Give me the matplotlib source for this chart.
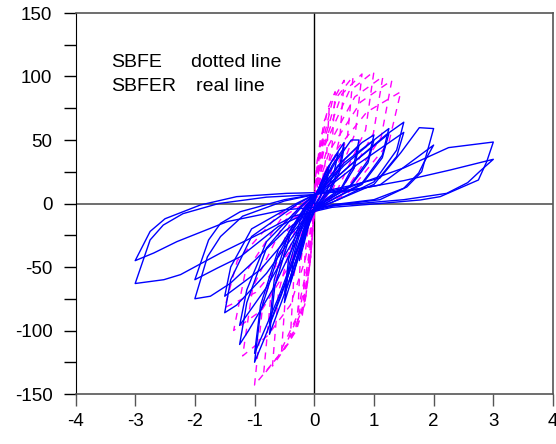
import matplotlib
matplotlib.use("Agg")
import matplotlib.pyplot as plt
from matplotlib.ticker import MultipleLocator

plt.rcParams['font.family'] = ['Liberation Sans', 'DejaVu Sans']
plt.rcParams['axes.unicode_minus'] = False

# SBFER (real line) - cycles, displacement / force
b1_x = [0, 0.08, 0.18, 0.25, 0.2, 0.1, 0, -0.08, -0.18, -0.25, -0.2, -0.1, 0]
b1_y = [0, 12, 24, 30, 18, 6, -2, -15, -33, -45, -30, -10, 3]
b2_x = [0, 0.1, 0.25, 0.19, 0.08, 0, -0.1, -0.25, -0.19, -0.08, 0]
b2_y = [3, 14, 26, 14, 3, -3, -17, -40, -22, -6, 4]
b3_x = [0, 0.1, 0.25, 0.4, 0.33, 0.2, 0.05, -0.1, -0.25, -0.4, -0.33, -0.18, -0.03, 0]
b3_y = [4, 15, 30, 40, 24, 9, -1, -18, -40, -62, -38, -14, 2, 5]
b4_x = [0, 0.1, 0.3, 0.5, 0.42, 0.25, 0.05, -0.1, -0.3, -0.5, -0.42, -0.22, -0.03, 0]
b4_y = [5, 14, 34, 48, 28, 10, -1, -16, -48, -78, -48, -16, 4, 6]
b5_x = [0, 0.1, 0.3, 0.5, 0.43, 0.26, 0.05, -0.1, -0.3, -0.5, -0.43, -0.24, -0.03, 0]
b5_y = [6, 12, 30, 44, 26, 9, -2, -15, -44, -72, -44, -14, 5, 6]
b6_x = [0, 0.1, 0.35, 0.62, 0.75, 0.66, 0.45, 0.15, -0.05, -0.15, -0.45, -0.75, -0.66, -0.4, -0.1, 0]
b6_y = [6, 12, 32, 50, 50, 30, 12, 2, -6, -22, -65, -103, -65, -24, -2, 6]
b7_x = [0, 0.1, 0.4, 0.75, 0.67, 0.45, 0.15, -0.05, -0.18, -0.45, -0.75, -0.67, -0.42, -0.1, 0]
b7_y = [6, 11, 30, 46, 28, 11, 1, -6, -24, -58, -95, -60, -22, -1, 6]
b8_x = [0, 0.1, 0.45, 0.8, 1.0, 0.9, 0.6, 0.2, -0.05, -0.2, -0.55, -0.85, -1.0, -0.9, -0.6, -0.15, 0]
b8_y = [6, 11, 32, 48, 54, 34, 14, 2, -6, -25, -72, -108, -125, -85, -40, -3, 6]
b9_x = [0, 0.1, 0.5, 1.0, 0.9, 0.6, 0.2, -0.05, -0.2, -0.6, -1.0, -0.9, -0.6, -0.15, 0]
b9_y = [6, 10, 32, 50, 32, 13, 2, -6, -24, -74, -118, -80, -36, -2, 6]
b10_x = [0, 0.1, 0.5, 1.0, 1.25, 1.14, 0.8, 0.3, -0.05, -0.25, -0.7, -1.1, -1.25, -1.13, -0.8, -0.2, 0]
b10_y = [6, 10, 30, 50, 59, 38, 16, 3, -6, -24, -68, -100, -111, -78, -35, -2, 7]
b11_x = [0, 0.1, 0.6, 1.25, 1.14, 0.8, 0.3, -0.05, -0.3, -0.8, -1.25, -1.13, -0.8, -0.2, 0]
b11_y = [7, 9, 30, 55, 36, 15, 3, -6, -25, -66, -96, -68, -30, -1, 7]
b12_x = [0, 0.1, 0.6, 1.2, 1.5, 1.38, 1.0, 0.4, -0.05, -0.3, -0.8, -1.3, -1.5, -1.4, -1.05, -0.3, 0]
b12_y = [7, 9, 30, 54, 64, 42, 17, 3, -6, -22, -55, -80, -86, -60, -26, -1, 7]
b13_x = [0, 0.1, 0.7, 1.5, 1.38, 1.0, 0.4, -0.05, -0.35, -0.9, -1.5, -1.4, -1.05, -0.3, 0]
b13_y = [7, 8, 30, 56, 37, 15, 3, -6, -22, -52, -73, -50, -20, 0, 7]
b14_x = [0, 0.1, 0.6, 1.1, 1.45, 1.76, 2.0, 1.8, 1.55, 1.1, 0.4, -0.05, -0.5, -1.0,
         -1.41, -1.74, -2.0, -1.79, -1.57, -1.2, -0.5, 0]
b14_y = [7, 9, 14, 20, 40, 59.7, 59, 25, 13, 3, -1, -6, -22, -45,
         -63, -73, -75, -42, -26, -10, 2, 7]
b15_x = [0, 0.1, 0.6, 1.1, 1.6, 2.0, 1.83, 1.75, 1.5, 1.0, 0.3, -0.05, -0.6, -1.24,
         -1.63, -2.0, -1.77, -1.57, -1.24, -0.5, 0]
b15_y = [7, 8, 10, 14.6, 32, 46, 31.6, 24, 12, 3, -1, -6, -18, -42,
         -51, -60, -28.7, -15.6, -6.5, 3, 7]
b16_x = [0, 0.1, 0.6, 1.5, 2.25, 3.0, 2.89, 2.75, 2.11, 1.78, 1.1, 0.3, -0.35, -0.9,
         -1.57, -2.24, -2.52, -3.0, -2.75, -2.53, -2.2, -1.6, -0.8, 0]
b16_y = [7, 8, 13, 28, 44, 48.4, 33, 18.5, 5.4, 2.8, 0, -3, -10, -23.5,
         -39, -56, -60, -63, -28.7, -17, -8, 0, 5, 7]
b17_x = [0, 0.1, 0.8, 1.5, 2.28, 3.0, 2.78, 2.57, 2.22, 1.5, 0.5, -0.5, -1.46, -2.3,
         -2.69, -3.0, -2.75, -2.5, -1.91, -1.3, -0.46, 0]
b17_y = [7, 8, 12, 18, 26.4, 34.8, 25.6, 16.4, 8, 3, -1, -5, -14.3, -30,
         -39, -45, -22, -12, -1.2, 5.4, 8, 8.5]

blue_x = [b1_x, b2_x, b3_x, b4_x, b5_x, b6_x, b7_x, b8_x, b9_x, b10_x, b11_x,
          b12_x, b13_x, b14_x, b15_x, b16_x, b17_x]
blue_y = [b1_y, b2_y, b3_y, b4_y, b5_y, b6_y, b7_y, b8_y, b9_y, b10_y, b11_y,
          b12_y, b13_y, b14_y, b15_y, b16_y, b17_y]

# SBFE (dotted line)
m1_x = [0, 0.02, 0.05, 0.08, 0.07, 0.03, 0, -0.03, -0.07, -0.1, -0.085, -0.04, 0]
m1_y = [0, 20, 34, 40, 22, 4, -4, -25, -46, -55, -30, -6, 3]
m2_x = [0, 0.04, 0.1, 0.15, 0.13, 0.06, 0, -0.05, -0.12, -0.18, -0.155, -0.07, 0]
m2_y = [3, 26, 50, 58, 32, 6, -4, -32, -62, -75, -40, -8, 3]
m3_x = [0, 0.06, 0.16, 0.25, 0.21, 0.1, 0, -0.06, -0.16, -0.28, -0.24, -0.11, 0]
m3_y = [3, 32, 64, 75, 40, 8, -5, -42, -80, -92, -50, -10, 4]
m4_x = [0, 0.08, 0.22, 0.35, 0.3, 0.14, 0, -0.07, -0.2, -0.4, -0.34, -0.16, 0]
m4_y = [4, 36, 74, 88, 46, 9, -5, -46, -88, -105, -56, -11, 4]
m5_x = [0, 0.1, 0.3, 0.5, 0.43, 0.2, 0, -0.06, -0.15, -0.3, -0.55, -0.47, -0.22, 0]
m5_y = [4, 40, 80, 97, 52, 10, -6, -42, -76, -100, -118, -64, -12, 4]
m6_x = [0, 0.12, 0.38, 0.65, 0.56, 0.26, 0, -0.08, -0.2, -0.4, -0.7, -0.6, -0.28, 0]
m6_y = [4, 42, 84, 100, 54, 11, -6, -46, -82, -108, -128, -70, -13, 5]
m7_x = [0, 0.15, 0.46, 0.8, 0.69, 0.32, 0, -0.1, -0.25, -0.5, -0.85, -0.73, -0.34, 0]
m7_y = [5, 44, 86, 102, 56, 12, -6, -48, -86, -114, -135, -74, -14, 5]
m8_x = [0, 0.18, 0.58, 1.0, 0.86, 0.4, 0, -0.12, -0.3, -0.6, -1.0, -0.86, -0.4, 0]
m8_y = [5, 46, 88, 104, 58, 12, -7, -50, -90, -120, -143, -78, -15, 5]
m9_x = [0, 0.22, 0.68, 1.15, 0.99, 0.46, 0, -0.15, -0.4, -0.78, -1.2, -1.03, -0.48, 0]
m9_y = [5, 44, 84, 100, 55, 11, -7, -44, -80, -104, -120, -66, -13, 5]
m10_x = [0, 0.26, 0.78, 1.3, 1.12, 0.52, 0, -0.3, -0.88, -1.35, -1.16, -0.54, 0]
m10_y = [5, 42, 80, 97, 52, 10, -7, -40, -84, -100, -55, -11, 5]
m11_x = [0, 0.3, 0.88, 1.45, 1.25, 0.58, 0, -0.34, -0.98, -1.5, -1.29, -0.6, 0]
m11_y = [5, 38, 72, 88, 48, 9, -7, -34, -70, -82, -45, -9, 5]

magenta_x = [m1_x, m2_x, m3_x, m4_x, m5_x, m6_x, m7_x, m8_x, m9_x, m10_x, m11_x]
magenta_y = [m1_y, m2_y, m3_y, m4_y, m5_y, m6_y, m7_y, m8_y, m9_y, m10_y, m11_y]

fig = plt.figure(figsize=(5.56, 4.44), dpi=100)
ax = fig.add_axes([75.5 / 556, 1 - 394 / 444, (553 - 75.5) / 556, (394 - 13) / 444])

for xs, ys in zip(magenta_x, magenta_y):
    ax.plot(xs, ys, color='#ff00ff', lw=1, linestyle=(0, (5, 4.5)))
for xs, ys in zip(blue_x, blue_y):
    ax.plot(xs, ys, color='#0000ff', lw=1)

ax.axhline(0, color='#555555', lw=1.2, zorder=0)
ax.axvline(0, color='black', lw=1, zorder=0)

ax.text(-3.4, 107.7, 'SBFE', fontsize=14)
ax.text(-2.06, 107.7, 'dotted line', fontsize=14)
ax.text(-3.4, 88.6, 'SBFER', fontsize=14)
ax.text(-1.98, 88.6, 'real line', fontsize=14)

ax.set_xlim(-4, 4)
ax.set_ylim(-150, 150)
ax.set_xticks(range(-4, 5))
ax.set_yticks(range(-150, 151, 50))
ax.yaxis.set_minor_locator(MultipleLocator(25))

for side in ['top', 'bottom', 'right']:
    ax.spines[side].set_color('#555555')
    ax.spines[side].set_linewidth(1.2)
ax.spines['left'].set_color('black')

ax.tick_params(axis='both', which='both', direction='out', length=8.6, width=1,
               labelsize=13.5)
ax.tick_params(axis='x', colors='#555555', labelcolor='black', pad=5)
ax.tick_params(axis='y', which='both', pad=8)

fig.savefig('out.png', dpi=100)
